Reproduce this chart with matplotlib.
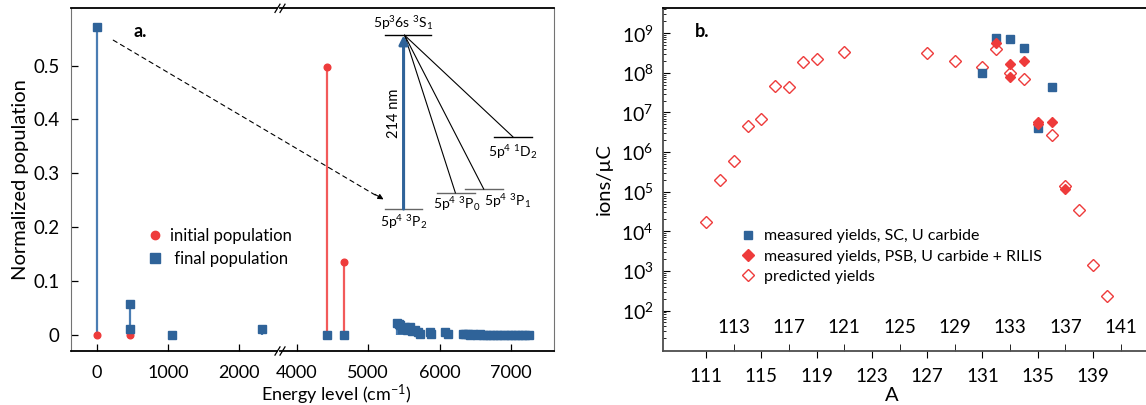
import matplotlib
matplotlib.use("Agg")
import matplotlib.pyplot as plt
from matplotlib.patches import ConnectionPatch
from matplotlib.lines import Line2D
from matplotlib.ticker import LogLocator, NullFormatter

plt.rcParams['font.family'] = ['Lato', 'DejaVu Sans']
plt.rcParams['mathtext.fontset'] = 'custom'
plt.rcParams['mathtext.rm'] = 'Lato'
plt.rcParams['mathtext.it'] = 'Lato:italic'
plt.rcParams['mathtext.bf'] = 'Lato:bold'
plt.rcParams['mathtext.default'] = 'regular'

BLUE = '#2f6399'
BLUE_STEM = '#4a7db3'
RED = '#ee3b3b'
RED_STEM = '#f25a5a'

# ---- panel a: populations vs energy level (cm-1) ----
energy_initial = [0, 471, 4421, 4663]
pop_initial = [0.0, 0.0, 0.497, 0.136]

energy_final = [0, 471, 471, 1056, 2320, 4421, 4663,
                5400, 5425, 5450, 5480, 5510, 5545, 5580, 5610, 5650, 5690, 5720,
                5860, 5880, 6070, 6110, 6330, 6360, 6390, 6430, 6470, 6520, 6560,
                6600, 6650, 6700, 6750, 6800, 6850, 6900, 6950, 7000, 7050, 7100,
                7150, 7200, 7250]
pop_final = [0.571, 0.058, 0.011, 0.001, 0.011, 0.0, 0.0,
             0.022, 0.021, 0.019, 0.012, 0.016, 0.009, 0.015, 0.008, 0.010, 0.006, 0.003,
             0.006, 0.002, 0.006, 0.003, 0.003, 0.002, 0.003, 0.001, 0.002, 0.001, 0.002,
             0.001, 0.001, 0.001, 0.001, 0.001, 0.001, 0.001, 0.001, 0.001, 0.001, 0.001,
             0.001, 0.001, 0.001]

a_yticks = [0, 0.1, 0.2, 0.3, 0.4, 0.5]
a_yticklabels = ['0', '0.1', '0.2', '0.3', '0.4', '0.5']
a_xticks_left = [0, 1000, 2000]
a_xticks_right = [4000, 5000, 6000, 7000]

# ---- panel b: yields vs mass number A ----
A_pred = [111, 112, 113, 114, 115, 116, 117, 118, 119, 121, 127, 129, 131, 132,
          133, 134, 136, 137, 138, 139, 140]
y_pred = [1.7e4, 2.0e5, 6.0e5, 4.6e6, 7.0e6, 4.8e7, 4.5e7, 1.9e8, 2.2e8, 3.4e8,
          3.1e8, 1.96e8, 1.4e8, 4.1e8, 1.0e8, 7.0e7, 2.7e6, 1.4e5, 3.4e4, 1.4e3, 2.4e2]

A_sc = [131, 132, 133, 134, 135, 136]
y_sc = [1.0e8, 7.5e8, 7.2e8, 4.2e8, 4.0e6, 4.3e7]

A_psb = [132, 133, 133, 134, 135, 135, 136, 137]
y_psb = [5.8e8, 1.7e8, 8.1e7, 2.0e8, 5.9e6, 5.2e6, 5.6e6, 1.2e5]

b_ticks_low = [111, 115, 119, 123, 127, 131, 135, 139]
b_ticks_high = [113, 117, 121, 125, 129, 133, 137, 141]
b_yticks = [1e2, 1e3, 1e4, 1e5, 1e6, 1e7, 1e8, 1e9]
b_yticklabels = [r'$10^{%d}$' % p for p in range(2, 10)]

W, H = 1146, 405
fig = plt.figure(figsize=(W / 100, H / 100), dpi=100)


def px_axes(x0, y0, x1, y1):
    # pixel box (top-left origin) -> figure axes
    return fig.add_axes([x0 / W, (H - y1) / H, (x1 - x0) / W, (y1 - y0) / H])


axL = px_axes(70.7, 8.3, 280, 351)
axR = px_axes(280, 8.3, 554, 351)
axR.patch.set_visible(False)

for ax in (axL, axR):
    ax.vlines(energy_final, 0, pop_final, color=BLUE_STEM, lw=1.6, zorder=2)
    ax.vlines(energy_initial, 0, pop_initial, color=RED_STEM, lw=1.6, zorder=2)
    ax.plot(energy_initial, pop_initial, 'o', color=RED, ms=4.8, zorder=3)
    ax.plot(energy_final, pop_final, 's', color=BLUE, ms=5.6, zorder=4)
    ax.set_ylim(-0.029, 0.606)
    ax.tick_params(direction='in', length=5, labelsize=13.5, pad=8, width=0.9)
    ax.spines['top'].set_linewidth(1.3)
    ax.spines['bottom'].set_linewidth(1.3)

axL.set_xlim(-365, 2577)
axR.set_xlim(3766, 7600)
axL.set_xticks(a_xticks_left)
axR.set_xticks(a_xticks_right)
axL.set_yticks(a_yticks, a_yticklabels)
axR.set_yticks([])
axL.spines['right'].set_visible(False)
axR.spines['left'].set_visible(False)
axL.spines['left'].set_color('0.45')
axR.spines['right'].set_color('0.45')
axL.tick_params(axis='x', pad=10, labelsize=13)
axR.tick_params(axis='x', pad=10, labelsize=13)
axL.set_ylabel('Normalized population', fontsize=14.5, labelpad=3)
fig.text(336.7 / W, 1 - 394.5 / H, 'Energy level (cm$^{-1}$)', fontsize=13,
         ha='center', va='center')

# axis break marks
for yb in (0, 1):
    for dx in (-0.012, 0.012):
        axL.plot([1 + dx - 0.012, 1 + dx + 0.012], [yb - 0.012, yb + 0.012],
                 transform=axL.transAxes, color='k', lw=0.9, clip_on=False, zorder=6)
    axL.plot([1 - 0.006, 1 + 0.006], [yb, yb], transform=axL.transAxes,
             color='white', lw=2.2, clip_on=False, zorder=5)

axL.text(0.333, 0.931, 'a.', transform=axL.transAxes, fontsize=13,
         fontweight='bold', ha='center', va='center')

legA = axL.legend(handles=[Line2D([], [], ls='none', marker='o', color=RED, ms=6),
                           Line2D([], [], ls='none', marker='s', color=BLUE, ms=6.5)],
                  labels=['initial population', ' final population'], loc='upper left',
                  bbox_to_anchor=(0.37, 0.36), frameon=False, fontsize=12,
                  handlelength=0.8, handletextpad=0.5, labelspacing=0.42,
                  borderpad=0, borderaxespad=0)
legA.set_zorder(10)

# energy level inset
lvl_kw = dict(lw=1.0)
axR.plot([5238, 5879], [0.556, 0.556], color='k', **lvl_kw)
axR.plot([5238, 5753], [0.234, 0.234], color='0.4', **lvl_kw)
axR.plot([5963, 6491], [0.264, 0.264], color='0.4', **lvl_kw)
axR.plot([6360, 6889], [0.271, 0.271], color='0.4', **lvl_kw)
axR.plot([6767, 7296], [0.368, 0.368], color='k', **lvl_kw)
for xe, ye in [(6220, 0.264), (6617, 0.271), (7024, 0.368)]:
    axR.plot([5510, xe], [0.556, ye], color='k', lw=0.8)
axR.annotate('', xy=(5495, 0.556), xytext=(5495, 0.234),
             arrowprops=dict(arrowstyle='-|>', color=BLUE, lw=2.2,
                             mutation_scale=13, shrinkA=0, shrinkB=0))
axR.text(5355, 0.412, '214 nm', rotation=90, fontsize=10.5, ha='center', va='center')
lbl_kw = dict(fontsize=10, ha='center', va='center')
axR.text(5491, 0.579, r'5p$^3$6s $^3$S$_1$', **lbl_kw)
axR.text(5491, 0.210, r'5p$^4$ $^3$P$_2$', **lbl_kw)
axR.text(6234, 0.243, r'5p$^4$ $^3$P$_0$', **lbl_kw)
axR.text(6945, 0.249, r'5p$^4$ $^3$P$_1$', **lbl_kw)
axR.text(7020, 0.340, r'5p$^4$ $^1$D$_2$', **lbl_kw)

con = ConnectionPatch(xyA=(233, 0.547), coordsA=axL.transData,
                      xyB=(5150, 0.256), coordsB=axR.transData,
                      linestyle=(0, (4, 3.5)), color='k', lw=0.8)
fig.add_artist(con)
axR.annotate('', xy=(5215, 0.252), xytext=(5094, 0.2614),
             arrowprops=dict(arrowstyle='-|>', color='k', lw=0.8,
                             mutation_scale=8, shrinkA=0, shrinkB=0))

# ---- panel b ----
axB = px_axes(663.3, 8.3, 1150, 350.7)
axB.plot(A_pred, y_pred, 'D', mfc='none', mec=RED, mew=1.0, ms=6.2, zorder=3)
axB.plot(A_sc, y_sc, 's', color=BLUE, ms=5.8, zorder=4)
axB.plot(A_psb, y_psb, 'D', color=RED, ms=5.4, zorder=5)
axB.set_yscale('log')
axB.set_ylim(9.7, 4.27e9)
axB.set_xlim(107.9, 111 + (1150 - 706) / 13.82)
axB.set_yticks(b_yticks, b_yticklabels)
axB.yaxis.set_minor_locator(LogLocator(base=10, subs=range(2, 10), numticks=20))
axB.yaxis.set_minor_formatter(NullFormatter())
axB.tick_params(axis='y', which='major', direction='in', length=5, labelsize=14, pad=7)
axB.tick_params(axis='y', which='minor', direction='in', length=2.5)
axB.set_xticks(b_ticks_low)
axB.set_xticks(b_ticks_high, [str(v) for v in b_ticks_high], minor=True)
axB.tick_params(axis='x', which='major', direction='out', length=5, labelsize=13.5, pad=7.5)
axB.tick_params(axis='x', which='minor', direction='in', length=5, labelsize=13.5, pad=-23)
axB.spines['right'].set_visible(False)
axB.spines['left'].set_color('0.3')
axB.spines['bottom'].set_color('0.3')
axB.spines['top'].set_linewidth(1.3)
axB.spines['bottom'].set_linewidth(1.3)
axB.spines['left'].set_linewidth(1.3)
axB.set_ylabel('ions/µC', fontsize=14.5, labelpad=6)
axB.set_xlabel('A', fontsize=14.5)
axB.xaxis.set_label_coords(0.47, -0.105)
axB.text(0.08, 0.932, 'b.', transform=axB.transAxes, fontsize=13,
         fontweight='bold', ha='center', va='center')

axB.legend(handles=[Line2D([], [], ls='none', marker='s', color=BLUE, ms=6),
                    Line2D([], [], ls='none', marker='D', color=RED, ms=5.8),
                    Line2D([], [], ls='none', marker='D', mfc='none', mec=RED, mew=1.0, ms=6.2)],
           labels=['measured yields, SC, U carbide',
                   'measured yields, PSB, U carbide + RILIS',
                   'predicted yields'],
           loc='upper left', bbox_to_anchor=(0.161, 0.355), frameon=False, fontsize=11.5,
           handlelength=0.8, handletextpad=0.6, labelspacing=0.38,
           borderpad=0, borderaxespad=0)

fig.savefig('out.png', dpi=100)
